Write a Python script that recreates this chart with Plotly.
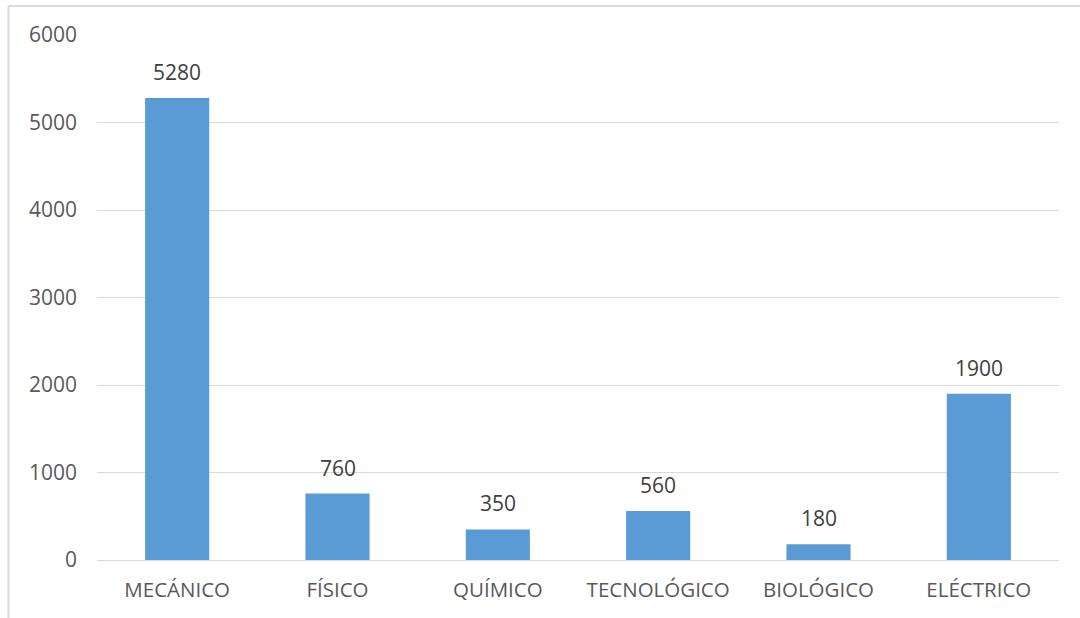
import plotly.graph_objects as go

categories = ["MECÁNICO", "FÍSICO", "QUÍMICO", "TECNOLÓGICO", "BIOLÓGICO", "ELÉCTRICO"]
values = [5280, 760, 350, 560, 180, 1900]
y_ticks = [0, 1000, 2000, 3000, 4000, 5000, 6000]

W, H = 1080, 618
L, R, T, B = 97, 21, 35, 58
pw, ph = W - L - R, H - T - B

def px_x(x):
    return (x - L) / pw

def px_y(y):
    return (H - B - y) / ph

fig = go.Figure()
fig.add_trace(go.Bar(
    x=categories, y=values,
    marker=dict(color="#5B9BD5", line=dict(width=0)),
    width=0.4,
    hoverinfo="x+y",
))

for c, v in zip(categories, values):
    fig.add_annotation(x=c, y=v, text=str(v), showarrow=False,
                       yanchor="bottom", yshift=10,
                       font=dict(family="Open Sans", size=21, color="#404040"))

border = dict(color="#d9d9d9", width=2)
fig.add_shape(type="line", xref="paper", yref="paper",
              x0=px_x(8.5), x1=px_x(1085), y0=px_y(6), y1=px_y(6), line=border)
fig.add_shape(type="line", xref="paper", yref="paper",
              x0=px_x(8.5), x1=px_x(8.5), y0=px_y(6), y1=px_y(625), line=border)

fig.update_layout(
    width=W, height=H,
    margin=dict(l=L, r=R, t=T, b=B),
    paper_bgcolor="white", plot_bgcolor="white",
    showlegend=False,
    font=dict(family="Open Sans", size=20, color="#595959"),
    xaxis=dict(showgrid=False, showline=True, linecolor="#d9d9d9", linewidth=1,
               ticks="", ticklabelstandoff=11,
               tickfont=dict(family="Open Sans", size=20.5, color="#595959")),
    yaxis=dict(range=[0, 6000], tickvals=y_ticks, showgrid=True, gridcolor="#d9d9d9",
               gridwidth=1, zeroline=False, showline=False, ticks="",
               ticklabelstandoff=19,
               tickfont=dict(family="Open Sans", size=21, color="#595959")),
    bargap=0.6,
)

fig.write_html("out.html")
